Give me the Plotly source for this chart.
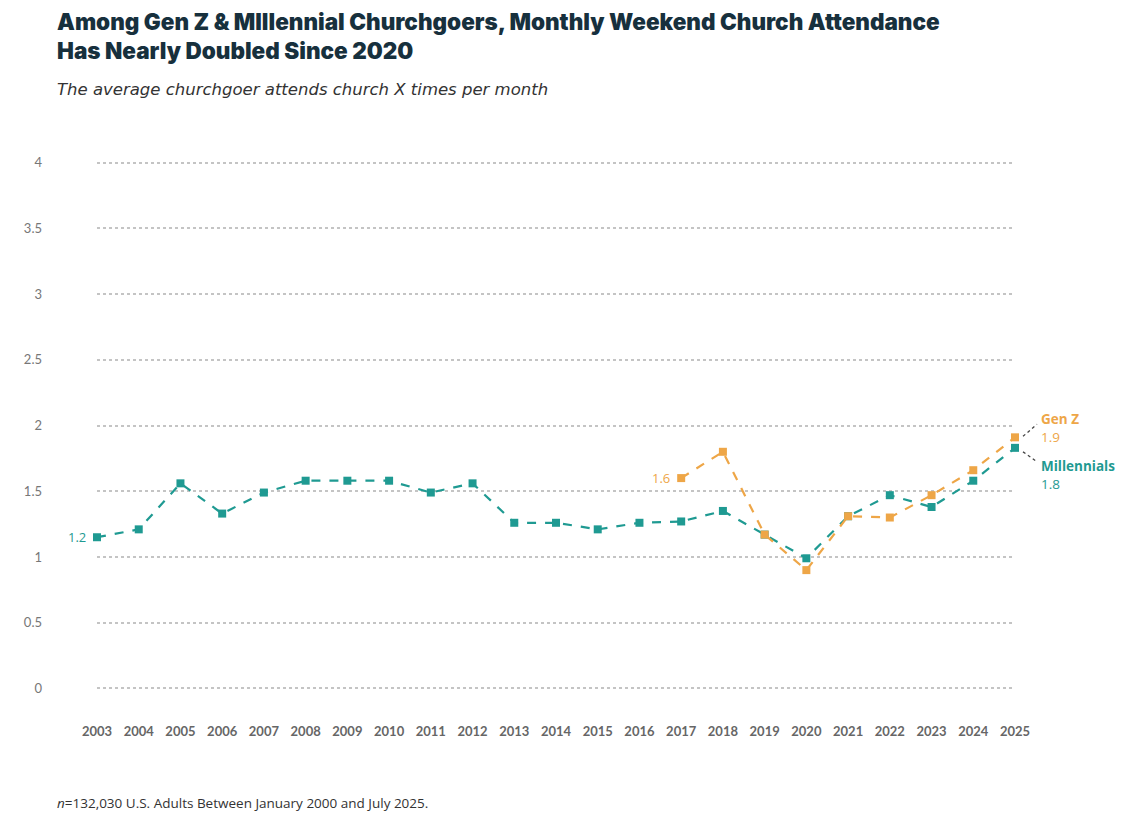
import plotly.graph_objects as go

years = list(range(2003, 2026))
millennials = [1.15, 1.21, 1.56, 1.33, 1.49, 1.58, 1.58, 1.58, 1.49, 1.56, 1.26, 1.26,
               1.21, 1.26, 1.27, 1.35, 1.17, 0.99, 1.31, 1.47, 1.38, 1.58, 1.83]
genz_years = list(range(2017, 2026))
genz = [1.6, 1.8, 1.17, 0.9, 1.31, 1.30, 1.47, 1.66, 1.91]

y_ticks = [0, 0.5, 1, 1.5, 2, 2.5, 3, 3.5, 4]

teal = "#1f9a92"
orange = "#eea647"
font_main = "Open Sans"
W, H = 1126, 819  # page body has an 8px margin
ML, MR, MT, MB = 89, 119, 148, 132
left_x = (47 - ML) / (W - ML - MR)  # text column left of the plot area

fig = go.Figure()
fig.add_trace(go.Scatter(x=years, y=millennials, mode="lines+markers", name="Millennials",
                         line=dict(color=teal, width=2.2, dash="dash"),
                         marker=dict(symbol="square", size=8, color=teal),
                         cliponaxis=False))
fig.add_trace(go.Scatter(x=genz_years, y=genz, mode="lines+markers", name="Gen Z",
                         line=dict(color=orange, width=2.2, dash="dash"),
                         marker=dict(symbol="square", size=8, color=orange),
                         cliponaxis=False))

# value labels at the start and end of each series
fig.add_annotation(x=years[0], y=millennials[0], text="1.2", showarrow=False,
                   xanchor="right", xshift=-9, font=dict(color=teal, size=13, family=font_main))
fig.add_annotation(x=genz_years[0], y=genz[0], text="1.6", showarrow=False,
                   xanchor="right", xshift=-9, font=dict(color=orange, size=13, family=font_main))
fig.add_annotation(x=genz_years[-1], y=genz[-1], text="<b>Gen Z</b><br>1.9", showarrow=False,
                   xanchor="left", yanchor="middle", xshift=24, yshift=9, align="left",
                   font=dict(color=orange, size=13.5, family=font_main))
fig.add_annotation(x=years[-1], y=millennials[-1], text="<b>Millennials</b><br>1.8", showarrow=False,
                   xanchor="left", yanchor="middle", xshift=24, yshift=-27, align="left",
                   font=dict(color=teal, size=13.5, family=font_main))

# small dotted leader lines to the end labels (paper x so they are not clipped)
fig.add_shape(type="line", xref="paper", yref="y", xsizemode="pixel", ysizemode="pixel",
              xanchor=1, yanchor=genz[-1], x0=8, x1=22, y0=1, y1=13,
              line=dict(color="#444444", width=1.3, dash="dot"))
fig.add_shape(type="line", xref="paper", yref="y", xsizemode="pixel", ysizemode="pixel",
              xanchor=1, yanchor=millennials[-1], x0=8, x1=22, y0=-4, y1=-14,
              line=dict(color="#444444", width=1.3, dash="dot"))

fig.update_xaxes(range=[2003, 2025], tickmode="array", tickvals=years,
                 ticktext=[str(y) for y in years], showgrid=False, zeroline=False,
                 showline=False, ticks="", ticklabelstandoff=27,
                 tickfont=dict(color="#666666", size=13, family="Lato", weight=700))
fig.update_yaxes(range=[-0.05, 4.05], tickmode="array", tickvals=y_ticks,
                 ticktext=[("%g" % v) for v in y_ticks], showgrid=True, gridcolor="#c4c4c4",
                 griddash="dot", gridwidth=2, zeroline=False, showline=False, ticks="",
                 ticklabelstandoff=54, tickfont=dict(color="#777777", size=13, family="Lato"))

fig.update_layout(
    width=W, height=H,
    margin=dict(l=ML, r=MR, t=MT, b=MB),
    plot_bgcolor="white", paper_bgcolor="white",
    showlegend=False,
)

fig.add_annotation(xref="paper", yref="paper", x=left_x, y=1.0, yshift=MT + 2,
                   xanchor="left", yanchor="top", showarrow=False, align="left",
                   text="Among Gen Z & MIllennial Churchgoers, Monthly Weekend Church Attendance<br>Has Nearly Doubled Since 2020",
                   font=dict(family="Inter", size=22.5, color="#17303d", weight=900))
fig.add_annotation(xref="paper", yref="paper", x=left_x, y=1.0,
                   yshift=67, xanchor="left", yanchor="middle", showarrow=False,
                   text="<i>The average churchgoer attends church X times per month</i>",
                   font=dict(family="DejaVu Sans", size=16.5, color="#333333"))
fig.add_annotation(xref="paper", yref="paper", x=left_x, y=0,
                   yshift=-108, xanchor="left", yanchor="middle", showarrow=False,
                   text="<i>n</i>=132,030 U.S. Adults Between January 2000 and July 2025.",
                   font=dict(family=font_main, size=13.5, color="#333333"))

fig.write_html("out.html")
